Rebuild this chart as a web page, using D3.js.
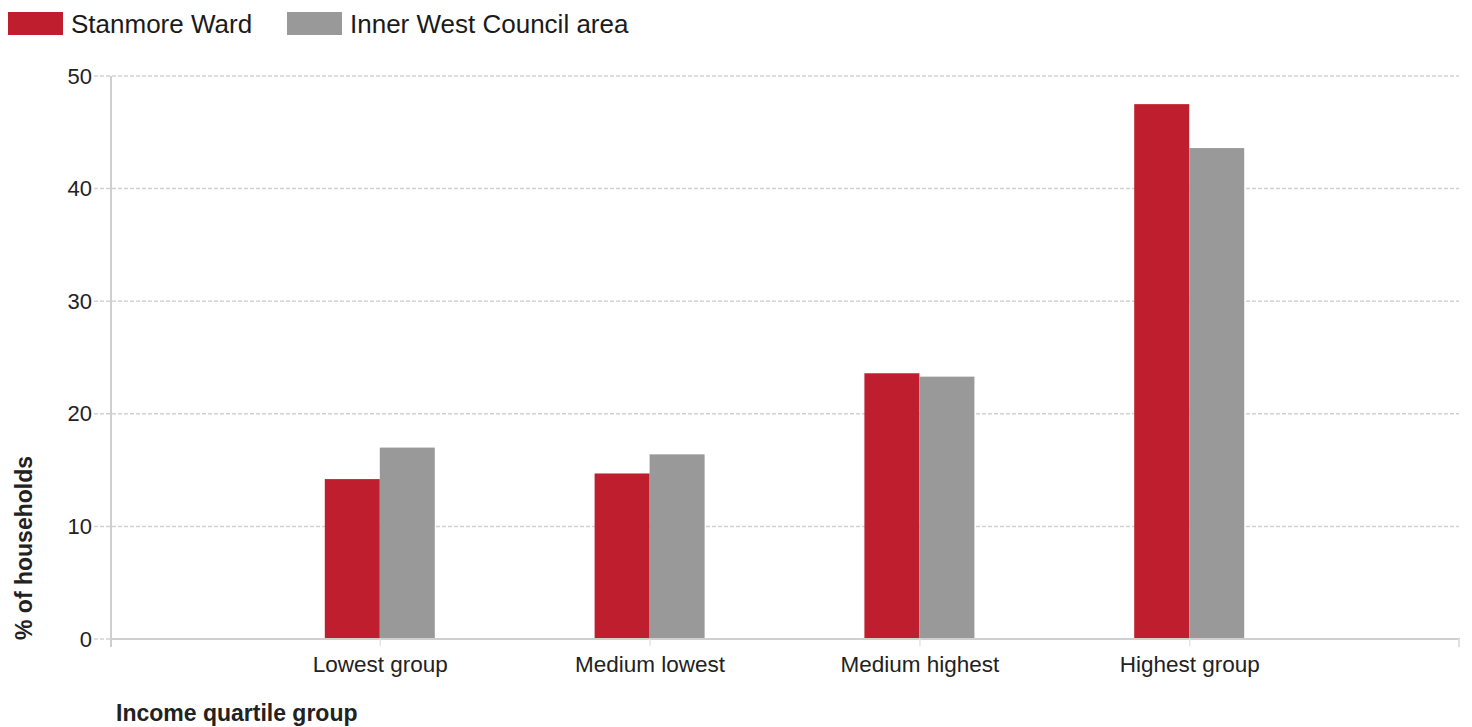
<!DOCTYPE html>
<html>
<head>
<meta charset="utf-8">
<script src="https://cdn.jsdelivr.net/npm/d3@7"></script>
<style>
  html, body { margin: 0; padding: 0; background: #fff; }
  svg { display: block; font-family: "Liberation Sans", Arial, sans-serif; }
</style>
</head>
<body>
<svg id="chart" width="1472" height="727"></svg>
<script>
const categories = ["Lowest group", "Medium lowest", "Medium highest", "Highest group"];
const seriesNames = ["Stanmore Ward", "Inner West Council area"];
const stanmoreWard = [14.2, 14.7, 23.6, 47.5];
const innerWest = [17.0, 16.4, 23.3, 43.6];
const yTicks = [0, 10, 20, 30, 40, 50];
const seriesColors = ["#be1e2d", "#999999"];
const xTitle = "Income quartile group";
const yTitle = "% of households";

(function () {
const svg = d3.select("#chart");
const plotLeft = 110, plotRight = 1459, plotTop = 76, plotBottom = 639;

const x = d3.scalePoint().domain(categories).range([plotLeft, plotRight]).padding(1);
const xSub = d3.scaleBand().domain(seriesNames).range([-55, 55]);
const y = d3.scaleLinear().domain([0, 50]).range([plotBottom, plotTop]);

const values = [stanmoreWard, innerWest];

// gridlines
svg.append("g").selectAll("line")
  .data(yTicks.filter(d => d > 0))
  .join("line")
  .attr("x1", 94).attr("x2", plotRight)
  .attr("y1", d => y(d)).attr("y2", d => y(d))
  .attr("stroke", "#d2d2d2").attr("stroke-width", 1.5)
  .attr("stroke-dasharray", "4,2");

// y axis tick labels
const yAxis = d3.axisLeft(y).tickValues(yTicks).tickSize(0).tickPadding(18).tickFormat(d3.format("d"));
const yg = svg.append("g").attr("transform", `translate(${plotLeft},0)`).call(yAxis);
yg.select(".domain").remove();
yg.selectAll("text").attr("font-size", 22).attr("fill", "#222")
  .attr("font-family", "Liberation Sans, Arial, sans-serif");

// bars
const groups = svg.append("g").selectAll("g")
  .data(categories)
  .join("g")
  .attr("transform", d => `translate(${x(d)},0)`);

groups.selectAll("rect")
  .data((c, i) => seriesNames.map((s, j) => ({ s, v: values[j][i], j })))
  .join("rect")
  .attr("x", d => xSub(d.s))
  .attr("width", xSub.bandwidth())
  .attr("y", d => y(d.v))
  .attr("height", d => y(0) - y(d.v))
  .attr("fill", d => seriesColors[d.j]);

// baseline (x axis) and left axis line
svg.append("line").attr("x1", 94).attr("x2", plotLeft).attr("y1", plotBottom).attr("y2", plotBottom)
  .attr("stroke", "#d2d2d2").attr("stroke-width", 1.5).attr("stroke-dasharray", "4,2");
svg.append("line").attr("x1", plotLeft).attr("x2", plotRight + 1).attr("y1", plotBottom).attr("y2", plotBottom)
  .attr("stroke", "#cfcfcf").attr("stroke-width", 2);
svg.append("line").attr("x1", plotLeft + 1).attr("x2", plotLeft + 1).attr("y1", plotTop).attr("y2", plotBottom + 8)
  .attr("stroke", "#cfcfcf").attr("stroke-width", 2);

// x axis with ticks and labels
const xAxis = d3.axisBottom(x).tickSize(7).tickPadding(10);
const xg = svg.append("g").attr("transform", `translate(0,${plotBottom})`).call(xAxis);
xg.select(".domain").remove();
xg.selectAll(".tick line").attr("stroke", "#e4e4e4").attr("stroke-width", 1.5);
xg.selectAll("text").attr("font-size", 22.5).attr("fill", "#222")
  .attr("font-family", "Liberation Sans, Arial, sans-serif");
svg.append("line").attr("x1", plotRight).attr("x2", plotRight).attr("y1", plotBottom).attr("y2", plotBottom + 8)
  .attr("stroke", "#e0e0e0").attr("stroke-width", 2);

// axis titles
svg.append("text").attr("x", 116).attr("y", 721)
  .attr("font-size", 23).attr("font-weight", "bold").attr("fill", "#222")
  .text(xTitle);
svg.append("text").attr("transform", "translate(32,640) rotate(-90)")
  .attr("font-size", 23).attr("font-weight", "bold").attr("fill", "#222")
  .text(yTitle);

// legend
const legendX = [8, 287];
const lg = svg.append("g").selectAll("g").data(seriesNames).join("g")
  .attr("transform", (d, i) => `translate(${legendX[i]},12)`);
lg.append("rect").attr("width", 55).attr("height", 23).attr("fill", (d, i) => seriesColors[i]);
lg.append("text").attr("x", 63).attr("y", 21).attr("font-size", 26).attr("fill", "#1a1a1a").text(d => d);
})();
</script>
</body>
</html>
